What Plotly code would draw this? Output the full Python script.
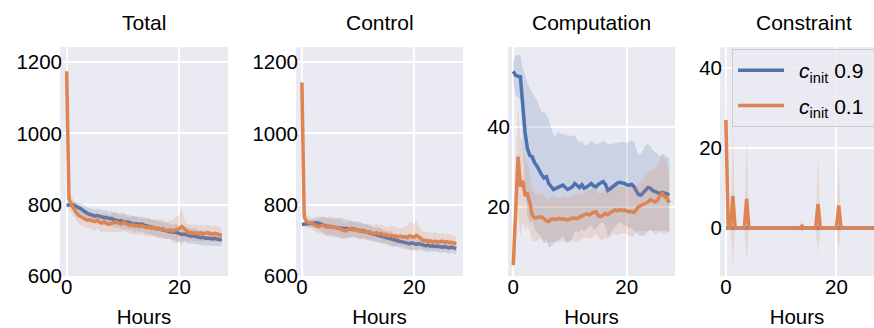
import plotly.graph_objects as go

# ---------------- data ----------------
STEP_MIN = 25
N_POINTS = 67
hours = [i * STEP_MIN / 60 for i in range(N_POINTS)]

panel_titles = ["Total", "Control", "Computation", "Constraint"]
series_names = ["&nbsp;&#8201;<i>c</i><sub>init</sub> 0.9&nbsp;&nbsp;",
                "&nbsp;&#8201;<i>c</i><sub>init</sub> 0.1&nbsp;&nbsp;"]

total_09 = [798, 799, 800, 798, 795, 792, 788, 783, 778, 774,
            772, 770, 767, 769, 766, 765, 763, 764, 760, 761,
            758, 756, 754, 755, 752, 750, 751, 748, 747, 745,
            746, 744, 745, 742, 740, 738, 737, 734, 733, 731,
            730, 728, 727, 725, 724, 722, 723, 720, 718, 716,
            717, 714, 713, 711, 712, 710, 708, 707, 708, 705,
            706, 704, 703, 705, 702, 701, 703]
total_09_sd = [4, 6, 8, 10, 12, 14, 15, 16, 16, 17,
               18, 18, 19, 20, 20, 21, 20, 19, 20, 21,
               22, 21, 20, 21, 22, 22, 21, 20, 21, 22,
               21, 20, 21, 22, 23, 22, 21, 22, 23, 22,
               21, 22, 23, 22, 21, 22, 23, 24, 22, 21,
               22, 23, 22, 21, 22, 21, 20, 22, 21, 20,
               21, 20, 19, 20, 19, 18, 18]
total_01 = [1175, 815, 800, 788, 778, 770, 765, 762, 758, 756,
            757, 754, 752, 756, 750, 748, 752, 746, 744, 747,
            749, 751, 748, 745, 750, 747, 743, 741, 744, 739,
            741, 738, 740, 737, 735, 738, 733, 736, 731, 734,
            730, 732, 728, 727, 729, 725, 727, 730, 733, 738,
            731, 724, 720, 722, 719, 721, 718, 720, 717, 719,
            721, 718, 716, 719, 717, 715, 713]
total_01_sd = [95, 30, 25, 24, 22, 23, 24, 22, 21, 23,
               24, 26, 25, 23, 24, 25, 27, 24, 22, 25,
               26, 28, 26, 24, 25, 23, 22, 24, 26, 25,
               24, 23, 22, 24, 25, 26, 24, 23, 25, 27,
               28, 26, 25, 24, 26, 30, 35, 38, 40, 55,
               30, 24, 23, 22, 24, 23, 22, 24, 23, 22,
               23, 24, 22, 23, 22, 21, 20]

control_09 = [744, 745, 746, 746, 747, 748, 749, 748, 745, 742,
              740, 738, 739, 736, 737, 735, 733, 734, 732, 733,
              731, 730, 732, 729, 728, 726, 727, 724, 722, 720,
              718, 716, 715, 713, 711, 709, 707, 705, 703, 701,
              699, 698, 696, 695, 693, 692, 690, 692, 689, 688,
              690, 687, 686, 684, 686, 683, 684, 682, 683, 681,
              680, 682, 679, 678, 680, 677, 676]
control_09_sd = [4, 5, 6, 8, 10, 14, 16, 18, 20, 22,
                 24, 25, 23, 22, 24, 26, 28, 30, 27, 25,
                 24, 22, 21, 23, 24, 22, 21, 20, 22, 21,
                 20, 19, 21, 22, 20, 19, 18, 20, 21, 19,
                 18, 17, 19, 20, 18, 17, 18, 19, 17, 16,
                 17, 18, 16, 17, 18, 16, 17, 15, 16, 17,
                 16, 15, 16, 17, 15, 16, 15]
control_01 = [1143, 765, 752, 750, 748, 744, 741, 738, 740, 742,
              738, 736, 739, 735, 737, 733, 735, 729, 727, 726,
              731, 733, 728, 730, 726, 728, 723, 725, 722, 724,
              720, 718, 721, 717, 719, 714, 716, 712, 714, 710,
              712, 709, 711, 708, 710, 707, 712, 710, 708, 713,
              709, 704, 698, 700, 696, 698, 695, 697, 694, 696,
              697, 694, 696, 693, 694, 692, 690]
control_01_sd = [100, 25, 18, 16, 15, 17, 18, 20, 22, 24,
                 26, 25, 27, 29, 28, 26, 25, 24, 22, 23,
                 25, 24, 22, 21, 23, 24, 22, 21, 23, 24,
                 22, 23, 25, 24, 26, 25, 23, 24, 26, 28,
                 27, 25, 24, 26, 28, 32, 38, 42, 35, 45,
                 30, 25, 24, 26, 25, 24, 23, 25, 24, 22,
                 23, 24, 22, 23, 22, 21, 20]

comp_09 = [53.8, 52.8, 52.6, 52.5, 45.5, 38.5, 34.5, 32.8, 32.5, 31.0,
           30.2, 29.0, 28.0, 27.2, 27.5, 25.8, 25.0, 24.3, 24.6, 24.9,
           25.2, 25.4, 24.8, 24.3, 24.6, 25.0, 25.8, 25.3, 24.8, 25.5,
           24.6, 24.9, 25.5, 25.8, 25.2, 25.0, 25.6, 26.0, 26.3, 25.6,
           24.1, 24.5, 25.0, 25.5, 25.9, 26.1, 26.0, 25.8, 25.5, 25.4,
           25.6, 25.1, 24.0, 23.0, 22.9, 23.6, 24.2, 24.8, 24.6, 24.0,
           23.8, 23.6, 23.3, 23.6, 23.5, 23.2, 22.9]
comp_09_sd = [2.5, 5.0, 5.3, 5.5, 9.0, 14.0, 16.5, 17.0, 16.0, 16.5,
              16.5, 16.0, 15.6, 16.5, 15.5, 16.0, 15.0, 13.5, 13.2, 13.8,
              13.0, 12.8, 13.2, 13.5, 13.0, 12.8, 12.0, 11.5, 11.2, 11.0,
              10.8, 10.5, 10.4, 10.6, 10.8, 10.5, 10.2, 10.0, 10.3, 10.5,
              11.5, 11.2, 10.8, 10.5, 10.2, 10.0, 10.2, 10.4, 10.5, 10.8,
              11.0, 11.2, 10.5, 10.0, 10.2, 10.8, 11.2, 10.8, 10.5, 10.2,
              9.8, 9.6, 9.4, 9.5, 9.4, 9.3, 9.2]
comp_01 = [5.4, 18.5, 32.5, 25.0, 26.5, 23.0, 23.2, 21.0, 18.0, 17.2,
           17.3, 17.6, 17.5, 17.0, 16.5, 16.3, 16.9, 17.0, 16.8, 17.1,
           16.9, 17.0, 16.8, 16.7, 16.9, 17.2, 17.1, 17.0, 17.4, 17.6,
           17.9, 18.2, 18.0, 18.4, 18.6, 18.8, 17.8, 17.5, 17.9, 18.3,
           18.0, 18.5, 18.9, 19.2, 19.0, 19.3, 19.1, 19.2, 19.0, 18.7,
           18.8, 18.6, 19.3, 20.0, 20.3, 20.6, 20.9, 21.2, 21.8, 21.4,
           21.2, 21.6, 22.8, 23.3, 22.5, 22.1, 21.0]
comp_01_sd = [1.5, 8.0, 14.0, 12.5, 10.0, 8.5, 8.0, 7.0, 6.5, 6.0,
              5.8, 5.5, 5.6, 5.8, 5.5, 5.4, 5.6, 5.8, 5.5, 5.3,
              5.5, 5.8, 5.6, 5.4, 5.5, 5.7, 5.9, 6.0, 5.8, 5.6,
              5.5, 5.8, 6.0, 6.2, 5.9, 5.6, 5.5, 5.8, 6.0, 6.2,
              6.0, 5.8, 5.6, 5.9, 6.2, 6.0, 5.8, 5.7, 5.9, 6.1,
              6.3, 6.0, 5.8, 6.0, 6.3, 6.6, 6.9, 7.2, 7.5, 7.8,
              8.2, 8.6, 9.0, 10.0, 9.5, 8.5, 7.5]

cons_09 = [0] * 67
cons_09_sd = [0] * 67
cons_01 = [27, 0, 0, 8, 0, 0, 0, 0, 0, 7.3,
           0, 0, 0, 0, 0, 0, 0, 0, 0, 0,
           0, 0, 0, 0, 0, 0, 0, 0, 0, 0,
           0, 0, 0, 0.5, 0, 0, 0, 0, 0, 0,
           6, 0, 0, 0, 0, 0, 0, 0, 0, 5.6,
           0, 0, 0, 0, 0, 0, 0, 0, 0, 0,
           0, 0, 0, 0, 0, 0, 0]
cons_01_sd = [16, 0, 0, 17.5, 0, 0, 0, 0, 0, 16,
              0, 0, 0, 0, 0, 0, 0, 0, 0, 0,
              0, 0, 0, 0, 0, 0, 0, 0, 0, 0,
              0, 0, 0, 1.5, 0, 0, 0, 0, 0, 0,
              12.5, 0, 0, 0, 0, 0, 0, 0, 0, 11.5,
              0, 0, 0, 0, 0, 0, 0, 0, 0, 0,
              0, 0, 0, 0, 0, 0, 0]

y_ticks = [[600, 800, 1000, 1200], [600, 800, 1000, 1200], [20, 40], [0, 20, 40]]
x_ticks = [0, 20]

panels = [
    (total_09, total_09_sd, total_01, total_01_sd),
    (control_09, control_09_sd, control_01, control_01_sd),
    (comp_09, comp_09_sd, comp_01, comp_01_sd),
    (cons_09, cons_09_sd, cons_01, cons_01_sd),
]

# ---------------- layout geometry ----------------
W, H = 874, 328
px_dom = [(60, 228), (296, 463), (508, 675), (720, 874)]
x_ranges = [(-1.18, 28.6), (-1.05, 28.7), (-0.93, 28.5), (-1.07, 26.8)]
y_ranges = [(599, 1243), (599, 1243), (2.7, 59.9), (-12, 45.25)]
title_cx = [144, 379.5, 591.5, 803.5]
top_px, bot_px = 47, 276
ydom = [(H - bot_px) / H, (H - top_px) / H]

BLUE = "#4C72B0"
ORANGE = "#DD8452"
BANDS = ["rgba(76,114,176,0.2)", "rgba(221,132,82,0.2)"]
COLORS = [BLUE, ORANGE]
FONT = "Arial, 'Liberation Sans', sans-serif"
TICK_SIZE = 20.5

fig = go.Figure()
for p, (m1, s1, m2, s2) in enumerate(panels):
    xa = "x" if p == 0 else f"x{p+1}"
    ya = "y" if p == 0 else f"y{p+1}"
    for k, (m, s) in enumerate([(m1, s1), (m2, s2)]):
        upper = [a + b for a, b in zip(m, s)]
        lower = [a - b for a, b in zip(m, s)]
        fig.add_trace(go.Scatter(
            x=hours + hours[::-1], y=upper + lower[::-1],
            fill="toself", fillcolor=BANDS[k], line=dict(width=0),
            mode="lines", hoverinfo="skip", showlegend=False,
            xaxis=xa, yaxis=ya))
        fig.add_trace(go.Scatter(
            x=hours, y=m, mode="lines",
            line=dict(color=COLORS[k], width=3.5),
            name=series_names[k], showlegend=(p == 3),
            legendgroup=f"g{k}",
            xaxis=xa, yaxis=ya))

layout = dict(
    width=W, height=H,
    margin=dict(l=0, r=0, t=0, b=0, autoexpand=False),
    paper_bgcolor="white", plot_bgcolor="#EAEAF2",
    font=dict(family=FONT, size=TICK_SIZE, color="black"),
    legend=dict(x=732 / W, y=(H - 49) / H, xanchor="left", yanchor="top",
                bgcolor="rgba(234,234,242,0.85)", bordercolor="#CCCCCC",
                borderwidth=1, font=dict(family=FONT, size=21),
                itemwidth=46, traceorder="grouped", tracegroupgap=5),
    annotations=[],
)
for p in range(4):
    sx = "" if p == 0 else str(p + 1)
    d0, d1 = px_dom[p]
    layout[f"xaxis{sx}"] = dict(
        domain=[d0 / W, d1 / W], range=list(x_ranges[p]),
        anchor=f"y{sx}", tickvals=x_ticks, showgrid=True,
        gridcolor="white", gridwidth=2, zeroline=False, showline=False,
        ticks="", tickfont=dict(size=TICK_SIZE), ticklabelstandoff=-4,
        title=dict(text="Hours", font=dict(size=TICK_SIZE), standoff=16))
    layout[f"yaxis{sx}"] = dict(
        domain=ydom, range=list(y_ranges[p]), anchor=f"x{sx}",
        tickvals=y_ticks[p], showgrid=True, gridcolor="white",
        gridwidth=2, zeroline=False, showline=False, ticks="",
        tickfont=dict(size=TICK_SIZE), ticklabelstandoff=-3)
    layout["annotations"].append(dict(
        text=panel_titles[p], xref="paper", yref="paper",
        x=title_cx[p] / W, y=(H - 22.5) / H,
        xanchor="center", yanchor="middle",
        showarrow=False, font=dict(size=21)))

fig.update_layout(**layout)
fig.write_html("out.html",
               config={"displayModeBar": False},
               post_script="document.body.style.margin='0';"
                           "document.body.style.overflow='hidden';")
